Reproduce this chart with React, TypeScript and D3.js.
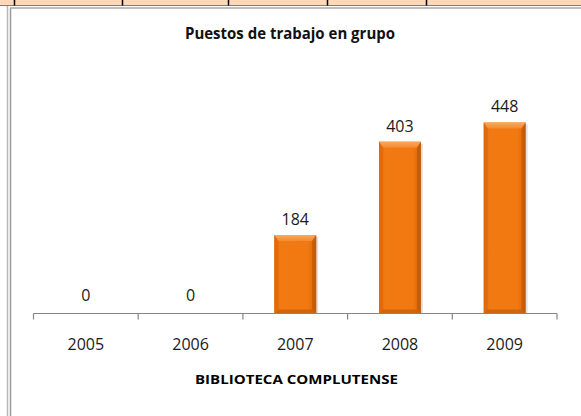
import React from "react";
import * as d3 from "d3";

const years = ["2005", "2006", "2007", "2008", "2009"];
const values = [0, 0, 184, 403, 448];
const title = "Puestos de trabajo en grupo";
const axisTitle = "BIBLIOTECA COMPLUTENSE";
const stripLines = [14, 122, 228, 327, 426];

const W = 581;
const H = 416;

export default function App() {
  const x = d3.scaleBand<string>().domain(years).range([33.5, 557]).paddingInner(0.6).paddingOuter(0.3);
  const y = d3.scaleLinear().domain([0, 500]).range([313.5, 100.3]);
  const step = x.step();
  const x0 = 33.5;
  const base = y(0);
  const font = "'Open Sans', 'DejaVu Sans', sans-serif";
  const bw = x.bandwidth();

  return (
    <svg width={W} height={H} style={{ position: "absolute", left: 0, top: 0 }} xmlns="http://www.w3.org/2000/svg">
      <defs>
        <linearGradient id="barG" x1="0" x2="1" y1="0" y2="0">
          <stop offset="0" stopColor="#E56E0C" />
          <stop offset="0.15" stopColor="#F27A12" />
          <stop offset="0.8" stopColor="#F27811" />
          <stop offset="1" stopColor="#D8680E" />
        </linearGradient>
        <linearGradient id="topG" x1="0" x2="0" y1="0" y2="1">
          <stop offset="0" stopColor="#F9A95E" />
          <stop offset="1" stopColor="#F48A30" />
        </linearGradient>
      </defs>
      <rect x={0} y={0} width={W} height={H} fill="#ffffff" />
      {/* top spreadsheet strip */}
      <rect x={0} y={0} width={W} height={5.5} fill="#FFD8B8" />
      <line x1={0} x2={W} y1={5.5} y2={5.5} stroke="#8a7a6e" strokeWidth={1} />
      {stripLines.map((lx) => (
        <line key={lx} x1={lx + 0.5} x2={lx + 0.5} y1={0} y2={5.5} stroke="#000" strokeWidth={1.5} />
      ))}
      {/* frame lines */}
      <line x1={7.5} x2={7.5} y1={6} y2={H} stroke="#b8b8b8" strokeWidth={1.5} />
      <line x1={10.5} x2={10.5} y1={8} y2={H} stroke="#9a9a9a" strokeWidth={1.5} />
      <line x1={10} x2={W} y1={8} y2={8} stroke="#a8a8a8" strokeWidth={1.5} />

      {/* title */}
      <text x={290} y={38.5} textAnchor="middle" fontFamily={font} fontWeight="bold" fontSize={16.5} fill="#111"
        textLength={210} lengthAdjust="spacingAndGlyphs">{title}</text>

      {/* bars */}
      {years.map((yr, i) => {
        const v = values[i];
        if (v <= 0) return null;
        const bx = x(yr)!;
        const by = y(v);
        const bh = base - by;
        const e = 4;
        return (
          <g key={yr}>
            <rect x={bx + 2} y={by + 2} width={bw} height={bh - 2} fill="#000" opacity={0.12} />
            <rect x={bx} y={by} width={bw} height={bh} fill="url(#barG)" />
            <polygon points={`${bx},${by} ${bx + bw},${by} ${bx + bw - e},${by + 6} ${bx + e},${by + 6}`} fill="url(#topG)" />
            <polygon points={`${bx + bw},${by} ${bx + bw},${base} ${bx + bw - e},${base - e} ${bx + bw - e},${by + 6}`} fill="#B9580C" opacity={0.75} />
            <polygon points={`${bx},${base} ${bx + bw},${base} ${bx + bw - e},${base - e} ${bx + e},${base - e}`} fill="#C0600E" opacity={0.7} />
            <polygon points={`${bx},${by} ${bx + e},${by + 6} ${bx + e},${base - e} ${bx},${base}`} fill="#E0680A" opacity={0.8} />
          </g>
        );
      })}

      {/* axis */}
      <line x1={x0} x2={x0 + step * years.length} y1={base} y2={base} stroke="#868686" strokeWidth={1.2} />
      {d3.range(years.length + 1).map((i) => (
        <line key={i} x1={x0 + i * step} x2={x0 + i * step} y1={base} y2={base + 6} stroke="#868686" strokeWidth={1.2} />
      ))}

      {/* value labels */}
      {years.map((yr, i) => {
        const v = values[i];
        const cy = Math.min(y(v), base - 3) - 10;
        return (
          <text key={yr} x={x(yr)! + bw / 2} y={cy} textAnchor="middle" fontFamily={font} fontSize={16} fill="#1a1a1a">
            {v}
          </text>
        );
      })}

      {/* category labels */}
      {years.map((yr) => (
        <text key={yr} x={x(yr)! + bw / 2} y={350} textAnchor="middle" fontFamily={font} fontSize={16} fill="#1a1a1a">
          {yr}
        </text>
      ))}

      <text x={296.5} y={384} textAnchor="middle" fontFamily={font} fontWeight="bold" fontSize={13} fill="#000"
        textLength={203} lengthAdjust="spacingAndGlyphs">{axisTitle}</text>
    </svg>
  );
}
